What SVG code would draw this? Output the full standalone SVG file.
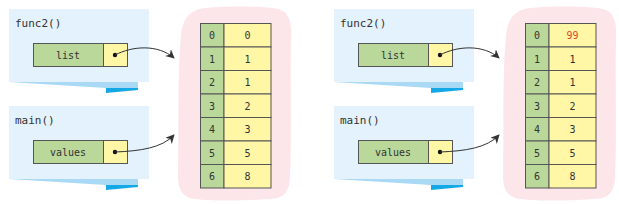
<svg xmlns="http://www.w3.org/2000/svg" width="619" height="204" viewBox="0 0 619 204">
<style>
.frame{fill:#e3f2fc}
.band{fill:#a9d9f4}
.wedge{fill:#14a9e6}
.blob{fill:#fde6ea}
.g{fill:#b9d89a;stroke:#555;stroke-width:1}
.y{fill:#fff6a6;stroke:#555;stroke-width:1}
.t{font-family:"DejaVu Sans Mono",monospace;font-size:10px;fill:#333;text-anchor:middle}
.lbl{font-family:"DejaVu Sans Mono",monospace;font-size:11px;fill:#333}
.red{fill:#e8412c}
.c{fill:none;stroke:#333;stroke-width:1}
.dot{fill:#111}
</style>
<defs>
<marker id="ah" viewBox="0 0 10 10" refX="9" refY="5" markerWidth="9" markerHeight="9" markerUnits="userSpaceOnUse" orient="auto">
<path d="M0,0 L10,5 L0,10 L3,5 Z" fill="#333"/>
</marker>
<g id="frameShape">
<rect class="frame" x="0" y="0" width="140" height="73"/>
<polygon class="band" points="0,73 129,73 129,79 97,79"/>
<polygon class="wedge" points="97,79 129,79 129,81 97,84"/>
</g>
<path id="blobShape" class="blob" d="M205,8 C230,6 262,6 278,9 C290,12 292,24 291,40 C290,80 292,130 290,178 C289,194 282,199 268,199 C240,201 210,201 195,199 C181,197 178,188 178,175 C179,130 177,80 181,35 C183,18 190,10 205,8 Z"/>
</defs>

<!-- Left panel -->
<g id="left-func2">
<use href="#frameShape" x="9" y="9"/>
<text class="lbl" x="15" y="27">func2()</text>
</g>
<g id="left-list">
<rect class="g" x="33.5" y="43.5" width="70" height="23"/>
<rect class="y" x="103.5" y="43.5" width="24" height="23"/>
<text class="t" x="68" y="58.5">list</text>
<circle class="dot" cx="115" cy="55" r="2.2"/>
</g>
<g id="left-main">
<use href="#frameShape" x="9" y="106"/>
<text class="lbl" x="15" y="124">main()</text>
</g>
<g id="left-values">
<rect class="g" x="33.5" y="140.5" width="70" height="23"/>
<rect class="y" x="103.5" y="140.5" width="24" height="23"/>
<text class="t" x="68" y="155.5">values</text>
<circle class="dot" cx="115" cy="152" r="2.2"/>
</g>
<g id="left-array">
<use href="#blobShape"/>
<g>
<rect class="g" x="200.5" y="23.5" width="23.5" height="23.5"/><rect class="y" x="224" y="23.5" width="47" height="23.5"/>
<rect class="g" x="200.5" y="47" width="23.5" height="23.5"/><rect class="y" x="224" y="47" width="47" height="23.5"/>
<rect class="g" x="200.5" y="70.5" width="23.5" height="23.5"/><rect class="y" x="224" y="70.5" width="47" height="23.5"/>
<rect class="g" x="200.5" y="94" width="23.5" height="23.5"/><rect class="y" x="224" y="94" width="47" height="23.5"/>
<rect class="g" x="200.5" y="117.5" width="23.5" height="23.5"/><rect class="y" x="224" y="117.5" width="47" height="23.5"/>
<rect class="g" x="200.5" y="141" width="23.5" height="23.5"/><rect class="y" x="224" y="141" width="47" height="23.5"/>
<rect class="g" x="200.5" y="164.5" width="23.5" height="23.5"/><rect class="y" x="224" y="164.5" width="47" height="23.5"/>
<text class="t" x="212" y="39">0</text><text class="t" x="247.5" y="39">0</text>
<text class="t" x="212" y="62.5">1</text><text class="t" x="247.5" y="62.5">1</text>
<text class="t" x="212" y="86">2</text><text class="t" x="247.5" y="86">1</text>
<text class="t" x="212" y="109.5">3</text><text class="t" x="247.5" y="109.5">2</text>
<text class="t" x="212" y="133">4</text><text class="t" x="247.5" y="133">3</text>
<text class="t" x="212" y="156.5">5</text><text class="t" x="247.5" y="156.5">5</text>
<text class="t" x="212" y="180">6</text><text class="t" x="247.5" y="180">8</text>
</g>
</g>

<!-- Right panel -->
<g id="right-func2">
<use href="#frameShape" x="334" y="9"/>
<text class="lbl" x="340" y="27">func2()</text>
</g>
<g id="right-list">
<rect class="g" x="358.5" y="43.5" width="70" height="23"/>
<rect class="y" x="428.5" y="43.5" width="24" height="23"/>
<text class="t" x="393" y="58.5">list</text>
<circle class="dot" cx="440" cy="55" r="2.2"/>
</g>
<g id="right-main">
<use href="#frameShape" x="334" y="106"/>
<text class="lbl" x="340" y="124">main()</text>
</g>
<g id="right-values">
<rect class="g" x="358.5" y="140.5" width="70" height="23"/>
<rect class="y" x="428.5" y="140.5" width="24" height="23"/>
<text class="t" x="393" y="155.5">values</text>
<circle class="dot" cx="440" cy="152" r="2.2"/>
</g>
<g id="right-array">
<use href="#blobShape" x="325"/>
<g>
<rect class="g" x="525.5" y="23.5" width="23.5" height="23.5"/><rect class="y" x="549" y="23.5" width="47" height="23.5"/>
<rect class="g" x="525.5" y="47" width="23.5" height="23.5"/><rect class="y" x="549" y="47" width="47" height="23.5"/>
<rect class="g" x="525.5" y="70.5" width="23.5" height="23.5"/><rect class="y" x="549" y="70.5" width="47" height="23.5"/>
<rect class="g" x="525.5" y="94" width="23.5" height="23.5"/><rect class="y" x="549" y="94" width="47" height="23.5"/>
<rect class="g" x="525.5" y="117.5" width="23.5" height="23.5"/><rect class="y" x="549" y="117.5" width="47" height="23.5"/>
<rect class="g" x="525.5" y="141" width="23.5" height="23.5"/><rect class="y" x="549" y="141" width="47" height="23.5"/>
<rect class="g" x="525.5" y="164.5" width="23.5" height="23.5"/><rect class="y" x="549" y="164.5" width="47" height="23.5"/>
<text class="t" x="537" y="39">0</text><text class="t red" x="572.5" y="39">99</text>
<text class="t" x="537" y="62.5">1</text><text class="t" x="572.5" y="62.5">1</text>
<text class="t" x="537" y="86">2</text><text class="t" x="572.5" y="86">1</text>
<text class="t" x="537" y="109.5">3</text><text class="t" x="572.5" y="109.5">2</text>
<text class="t" x="537" y="133">4</text><text class="t" x="572.5" y="133">3</text>
<text class="t" x="537" y="156.5">5</text><text class="t" x="572.5" y="156.5">5</text>
<text class="t" x="537" y="180">6</text><text class="t" x="572.5" y="180">8</text>
</g>
</g>

<g id="connectors">
<path class="c" marker-end="url(#ah)" d="M115,55 C132,46 158,44 174,58"/>
<path class="c" marker-end="url(#ah)" d="M115,152 C140,151 162,148 174,135"/>
<path class="c" marker-end="url(#ah)" d="M440,55 C457,46 483,44 499,58"/>
<path class="c" marker-end="url(#ah)" d="M440,152 C465,151 487,148 499,135"/>
</g>
</svg>
